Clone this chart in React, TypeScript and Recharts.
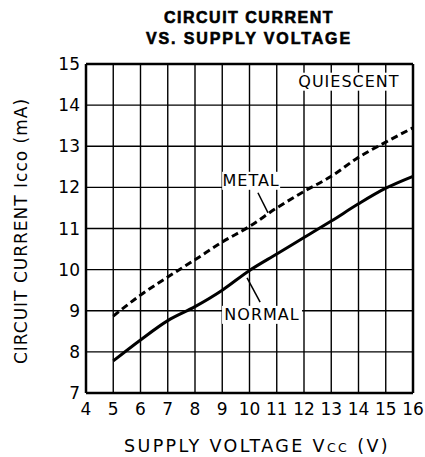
import React from 'react';
import { LineChart, XAxis, YAxis, CartesianGrid, Line, ReferenceLine, ReferenceDot } from 'recharts';

// supply voltage Vcc (V)
const voltage = [5, 6, 7, 8, 9, 10, 11, 12, 13, 14, 15, 16];
// circuit current Icco (mA)
const normalCurrent = [7.78, 8.29, 8.76, 9.1, 9.5, 9.98, 10.38, 10.78, 11.18, 11.6, 11.98, 12.27];
const metalCurrent = [8.87, 9.38, 9.82, 10.24, 10.67, 11.05, 11.5, 11.9, 12.27, 12.73, 13.1, 13.45];

const xTicks = [4, 5, 6, 7, 8, 9, 10, 11, 12, 13, 14, 15, 16];
const yTicks = [7, 8, 9, 10, 11, 12, 13, 14, 15];

const data = voltage.map((v, i) => ({ v, normal: normalCurrent[i], metal: metalCurrent[i] }));

const FONT = '"DejaVu Sans", sans-serif';
const TITLE_FONT = '"Liberation Sans", Arial, sans-serif';

const boxedText = (text: string, width: number) => (props: any) => {
  const { cx, cy } = props;
  return (
    <g>
      <rect x={cx - width / 2} y={cy - 9} width={width} height={18} fill="#fff" />
      <text x={cx} y={cy} textAnchor="middle" dominantBaseline="central"
        fontFamily={FONT} fontSize={16} letterSpacing={1} fill="#000">{text}</text>
    </g>
  );
};

const App: React.FC = () => {
  return (
    <div style={{ position: 'absolute', left: 0, top: 0, width: 425, height: 457, background: '#fff' }}>
      <LineChart width={425} height={457} data={data} margin={{ top: 64, right: 12, left: 0, bottom: 0 }}>
        <CartesianGrid stroke="#000" strokeWidth={1.4} strokeOpacity={1} />
        <XAxis type="number" dataKey="v" domain={[4, 16]} ticks={xTicks} interval={0}
          height={64} tickSize={0} tickMargin={10}
          axisLine={{ stroke: '#000', strokeWidth: 2.5 }}
          tick={{ fill: '#000', fontFamily: FONT, fontSize: 17 }} />
        <YAxis type="number" domain={[7, 15]} ticks={yTicks} interval={0}
          width={86} tickSize={0} tickMargin={6}
          axisLine={{ stroke: '#000', strokeWidth: 2.5 }}
          tick={{ fill: '#000', fontFamily: FONT, fontSize: 17 }} />
        <ReferenceLine y={15} stroke="#000" strokeWidth={2.5} />
        <ReferenceLine x={16} stroke="#000" strokeWidth={2.5} />
        <Line type="monotone" dataKey="metal" stroke="#000" strokeWidth={3} strokeDasharray="7 4"
          dot={false} isAnimationActive={false} />
        <Line type="monotone" dataKey="normal" stroke="#000" strokeWidth={3}
          dot={false} isAnimationActive={false} />
        <ReferenceLine segment={[{ x: 10.31, y: 11.87 }, { x: 10.68, y: 11.38 }]} stroke="#000" strokeWidth={1.5} />
        <ReferenceLine segment={[{ x: 10.39, y: 9.21 }, { x: 9.91, y: 9.8 }]} stroke="#000" strokeWidth={1.5} />
        <ReferenceDot x={13.65} y={14.57} r={0} shape={boxedText('QUIESCENT', 102)} />
        <ReferenceDot x={10.06} y={12.16} r={0} shape={boxedText('METAL', 58)} />
        <ReferenceDot x={10.46} y={8.9} r={0} shape={boxedText('NORMAL', 80)} />
      </LineChart>
      <svg width={425} height={457} style={{ position: 'absolute', left: 0, top: 0, pointerEvents: 'none' }}>
        <text x={249} y={23} textAnchor="middle" fontFamily={TITLE_FONT} fontWeight="bold" fontSize={16}
          letterSpacing={1.5} stroke="#000" strokeWidth={0.6}>CIRCUIT CURRENT</text>
        <text x={249} y={44} textAnchor="middle" fontFamily={TITLE_FONT} fontWeight="bold" fontSize={16}
          letterSpacing={1.9} stroke="#000" strokeWidth={0.6}>VS. SUPPLY VOLTAGE</text>
        <text x={257} y={452} textAnchor="middle" fontFamily={FONT} fontSize={17.5} letterSpacing={2.4}>
          SUPPLY VOLTAGE V<tspan fontSize={12.5}>CC</tspan> (V)
        </text>
        <text x={21} y={231} textAnchor="middle" dominantBaseline="central" transform="rotate(-90 21 231)"
          fontFamily={FONT} fontSize={17} letterSpacing={1}>CIRCUIT CURRENT Icco (mA)</text>
      </svg>
    </div>
  );
};

export default App;
